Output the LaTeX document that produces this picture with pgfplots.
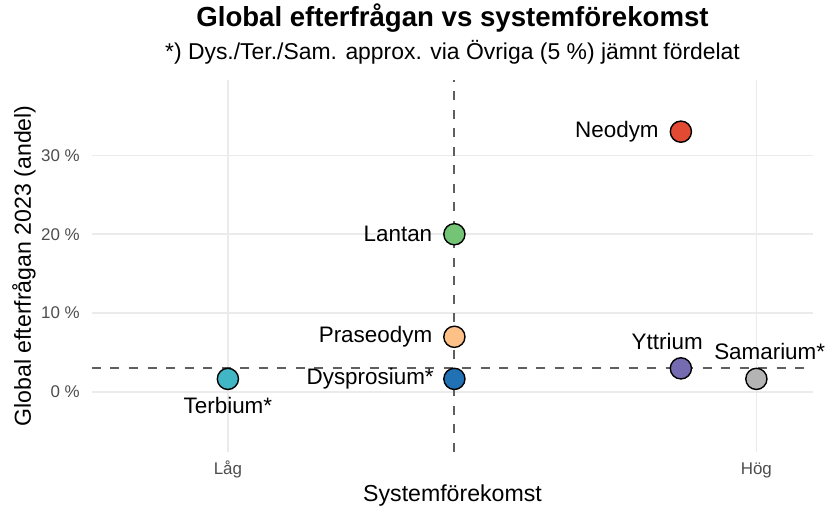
\documentclass[border=0pt]{standalone}
\usepackage{pgfplots}
\pgfplotsset{compat=1.18}
\usepackage{fontspec}
\setmainfont{Liberation Sans}
\definecolor{cNeo}{RGB}{227,74,51}
\definecolor{cLan}{RGB}{116,196,118}
\definecolor{cPra}{RGB}{253,192,134}
\definecolor{cDys}{RGB}{33,113,181}
\definecolor{cTer}{RGB}{65,182,196}
\definecolor{cYtt}{RGB}{117,107,177}
\definecolor{cSam}{RGB}{180,180,180}
\definecolor{gridc}{RGB}{235,235,235}
\definecolor{tickc}{RGB}{77,77,77}
\definecolor{refc}{RGB}{95,95,95}
\pgfplotsset{
  pt/.style n args={3}{only marks, mark=*, mark size=10.6bp,
    mark options={fill=#1, draw=black, line width=1.4bp},
    nodes near coords={#2},
    every node near coord/.style={font=\fontsize{22.5}{26}\selectfont, text=black, inner sep=0pt, #3}},
}
\begin{document}
\begin{tikzpicture}[x=1bp,y=1bp]
\path[use as bounding box] (-92,-58) rectangle (735,452);
\begin{axis}[
  at={(0,0)}, anchor=south west,
  scale only axis, width=721bp, height=372bp,
  xmin=-0.8, xmax=8.75, ymin=-7.6, ymax=39.55,
  axis line style={draw=none}, tick style={draw=none},
  xtick={1,8}, xticklabels={Låg,Hög},
  ytick={0,10,20,30}, yticklabels={0 \%,10 \%,20 \%,30 \%},
  grid=major, major grid style={color=gridc, line width=1.5bp},
  tick label style={font=\fontsize{17}{20}\selectfont, text=tickc},
  xticklabel style={anchor=base, inner sep=0pt, yshift=-23bp},
  yticklabel style={anchor=east, inner sep=0pt, xshift=-12bp},
  clip=false,
]
\addplot[refc, line width=1.9bp, dash pattern=on 9bp off 9.5bp, forget plot] coordinates {(-0.8,3) (8.75,3)};
\addplot[refc, line width=1.9bp, dash pattern=on 9bp off 9.5bp, forget plot] coordinates {(4,-7.6) (4,39.55)};
\addplot[pt={cNeo}{Neodym}{anchor=east, xshift=-21.5bp}] coordinates {(7,33)};
\addplot[pt={cLan}{Lantan}{anchor=east, xshift=-21.5bp}] coordinates {(4,20)};
\addplot[pt={cPra}{Praseodym}{anchor=east, xshift=-21.5bp}] coordinates {(4,7)};
\addplot[pt={cDys}{Dysprosium*}{anchor=east, xshift=-20bp}] coordinates {(4,1.667)};
\addplot[pt={cTer}{Terbium*}{anchor=base, yshift=-35bp}] coordinates {(1,1.667)};
\addplot[pt={cYtt}{Yttrium}{anchor=base, xshift=-13.7bp, yshift=19bp}] coordinates {(7,3)};
\addplot[pt={cSam}{Samarium*}{anchor=base, xshift=13.3bp, yshift=19.3bp}] coordinates {(8,1.667)};
\end{axis}
\node[anchor=base, font=\bfseries\fontsize{27.7}{32}\selectfont] at (360.5,425.5) {Global efterfrågan vs systemförekomst};
\node[anchor=base, font=\fontsize{23}{27}\selectfont] at (360.5,392) {*) Dys./Ter./Sam. approx. via Övriga (5 \%) jämnt fördelat};
\node[anchor=base, font=\fontsize{23.2}{27}\selectfont] at (360.5,-50) {Systemförekomst};
\node[anchor=base, rotate=90, font=\fontsize{23.2}{27}\selectfont] at (-61,186) {Global efterfrågan 2023 (andel)};
\end{tikzpicture}
\end{document}
